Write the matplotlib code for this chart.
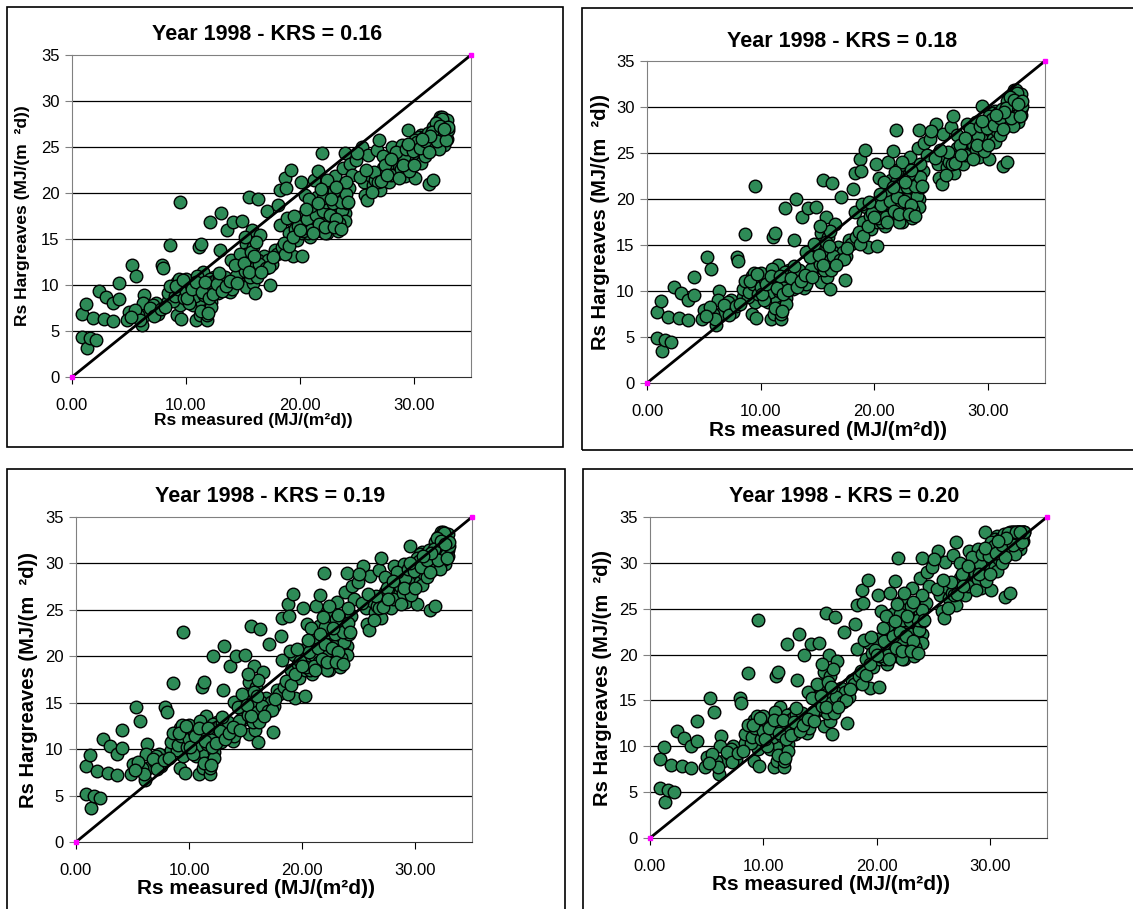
import matplotlib.pyplot as plt
from matplotlib.patches import Rectangle

plt.rcParams['font.family'] = ['Liberation Sans', 'DejaVu Sans']

# Daily Rs measured (x) and Hargreaves Rs computed with KRS = 0.16 (y), 1998.
# The Hargreaves estimate is linear in KRS and limited by clear-sky Rso,
# so the other panels are these values rescaled and capped.
rs_measured = [
    0.88, 1.2, 0.88, 1.3, 1.6, 2.1, 1.85, 2.4, 3.0, 2.8, 3.6, 3.6, 4.1, 4.1, 5.3, 5.65,
    5.0, 4.85, 6.1, 6.3, 6.2, 6.4, 7.55, 7.35, 7.9, 8.0, 8.6, 9.5, 9.2, 8.9, 8.4, 9.2,
    9.6, 9.5, 9.75, 10.2, 10.6, 10.9, 11.2, 11.1, 11.3, 11.2, 11.5, 11.8, 11.95, 12.1,
    12.5, 12.7, 12.95, 13.1, 13.1, 13.6, 13.7, 13.95, 14.15, 14.9, 14.9, 15.0, 15.3,
    15.5, 15.3, 15.75, 15.85, 16.05, 16.3, 16.5, 16.8, 17.1, 17.4, 17.5, 17.8, 18.1,
    18.25, 18.25, 18.7, 18.8, 19.0, 19.2, 19.3, 19.4, 19.6, 20.1, 20.0, 20.2, 20.4,
    20.9, 21.2, 21.3, 21.6, 21.9, 21.5, 21.9, 22.2, 22.4, 22.5, 22.65, 22.9, 23.1,
    23.3, 23.4, 23.8, 23.8, 23.95, 23.95, 24.3, 24.4, 24.9, 25.4, 25.6, 25.7, 25.9,
    26.0, 26.2, 26.4, 26.75, 26.95, 27.0, 27.3, 27.45, 27.8, 27.9, 28.1, 28.35, 28.5,
    28.8, 28.95, 29.2, 29.4, 29.5, 29.7, 30.0, 30.1, 30.25, 30.6, 30.8, 31.3, 31.6,
    31.7, 31.7, 31.85, 32.25, 32.3, 32.45, 32.6, 32.75, 32.85, 32.6,
    9.9, 10.3, 10.7, 11.2, 11.65, 12.1, 12.4, 12.8, 13.3, 13.6, 13.85, 8.9, 8.4, 10.2,
    11.4, 11.8, 11.8, 12.2, 11.5, 9.5, 10.5, 7.0, 7.1, 5.8,
    15.45, 15.6, 15.9, 16.2, 16.35, 16.9, 17.2, 15.3, 15.9, 14.7, 14.6, 14.15, 17.95,
    18.4, 18.7,
    19.7, 20.2, 20.6, 21.0, 21.5, 21.8, 22.1, 22.5, 22.8, 22.9, 23.2, 23.5, 23.7,
    23.95, 24.1, 21.3, 21.8, 20.7, 23.4, 22.65, 22.2,
    28.2, 28.6, 29.1, 29.8, 30.4, 30.8, 31.1, 31.4, 32.0, 32.2, 32.45, 32.9, 32.45,
    32.0, 32.6, 32.9, 27.6, 27.3, 27.0, 26.6, 30.4, 30.1, 30.9,
    9.0, 9.3, 9.8, 10.0, 10.4, 10.8, 11.0, 11.3, 11.6, 12.0, 12.3, 12.6, 12.9, 13.0,
    13.4, 13.8, 14.0, 12.2, 11.9, 10.3, 9.4, 10.0, 11.0,
    14.4, 14.8, 15.2, 15.6, 16.0, 16.4, 17.0, 17.3, 15.7, 16.1,
    18.6, 19.0, 19.4, 19.8, 20.3, 20.6, 21.0, 21.4, 21.7, 22.0, 22.3, 22.6, 22.9,
    23.2, 23.6, 24.0, 21.0, 20.8, 22.0, 23.0,
    27.5, 28.0, 28.4, 28.9, 29.3, 29.6, 29.9, 30.3, 30.6, 31.0, 31.2, 31.5, 31.8,
    32.1, 32.4, 32.7, 32.9, 32.5, 33.0, 31.9, 32.2,
    24.6, 25.0, 25.3, 26.5, 26.8, 25.8,
    5.5, 6.0, 6.8, 7.2, 7.8, 8.2, 8.6, 5.2,
    9.1, 9.7, 10.1, 10.5, 10.9, 11.4, 11.7, 12.0, 12.4, 12.7, 13.2, 13.5, 13.9, 12.9,
    14.3, 15.1, 15.5, 16.0, 16.6, 17.6, 15.2, 14.5,
    18.9, 19.5, 20.0, 20.5, 21.1, 21.6, 22.2, 22.7, 23.0, 23.6, 24.0, 22.4, 21.8,
    23.2, 24.2,
    26.3, 27.1, 27.6, 28.0, 28.7, 29.0, 29.5, 30.0, 30.5, 31.0, 31.3, 31.6, 32.0,
    32.3, 32.8, 33.0, 32.6, 31.4, 30.7,
]
rs_hargreaves_016 = [
    6.9, 7.9, 4.35, 3.1, 4.2, 4.0, 6.4, 9.3, 8.7, 6.3, 6.1, 8.0, 10.2, 8.5, 12.2, 11.0,
    7.1, 6.2, 5.6, 8.9, 8.0, 6.7, 6.9, 8.0, 12.2, 11.8, 14.4, 19.0, 10.3, 9.4, 8.3, 6.7,
    6.3, 7.8, 9.1, 9.8, 7.8, 6.2, 6.7, 14.1, 14.5, 10.5, 11.4, 6.2, 8.5, 16.9,
    10.9, 9.4, 13.8, 17.8, 10.2, 16.0, 9.4, 12.7, 16.9, 17.0, 11.2, 13.2, 9.8,
    19.6, 14.5, 16.0, 10.2, 9.1, 19.3, 15.4, 13.1, 18.0, 10.0, 12.3, 13.8, 18.7,
    20.3, 16.5, 21.6, 20.5, 15.6, 22.5, 17.0, 13.1, 16.1, 21.2, 17.4, 13.2, 19.8,
    15.2, 21.4, 16.3, 22.4, 24.4, 19.6, 17.4, 20.7, 15.6, 19.9, 18.5, 17.0, 21.8,
    15.9, 18.3, 19.6, 22.7, 24.4, 17.8, 20.5, 23.2, 23.6, 25.0, 21.2, 19.8, 19.2,
    24.1, 21.9, 20.9, 24.7, 25.8, 20.3, 22.7, 21.8, 21.2, 23.4, 25.0, 22.3, 23.9,
    24.7, 25.2, 21.8, 23.6, 26.8, 23.9, 25.2, 21.6, 24.3, 26.3, 25.0, 21.0, 24.8,
    21.4, 27.2, 26.0, 28.3, 26.0, 27.7, 26.8, 27.4, 26.5, 25.2,
    10.2, 9.1, 9.4, 9.1, 9.8, 10.7, 10.0, 9.1, 9.8, 10.5, 9.2, 8.3, 9.1, 8.3,
    8.0, 7.3, 6.7, 8.2, 9.4, 9.4, 10.3, 7.3, 7.8, 6.7,
    12.0, 10.9, 12.0, 10.9, 12.7, 12.0, 12.7, 13.4, 14.1, 13.4, 11.2, 10.5, 13.4,
    14.1, 13.4,
    14.9, 15.6, 16.3, 17.0, 16.3, 18.5, 17.0, 17.8, 19.2, 17.8, 18.9, 17.4, 18.1,
    17.0, 18.9, 17.8, 15.9, 15.6, 16.7, 16.3, 15.6,
    22.9, 23.2, 23.9, 22.9, 23.6, 24.3, 25.4, 26.1, 26.5, 25.4, 26.7, 27.2, 28.3,
    27.7, 26.1, 25.9, 22.9, 24.0, 21.8, 21.4, 26.1, 25.8, 26.1,
    8.8, 9.6, 8.6, 9.3, 10.0, 8.8, 9.9, 7.2, 8.9, 9.5, 10.3, 10.5, 10.8, 9.6,
    10.9, 10.1, 9.6, 7.6, 7.0, 8.0, 10.6, 10.6, 11.0,
    11.0, 12.2, 11.5, 12.6, 11.8, 12.3, 11.9, 12.0, 13.6, 14.7,
    14.6, 14.2, 15.2, 16.4, 15.9, 17.2, 16.0, 17.6, 16.6, 18.0, 19.0, 17.6, 18.9,
    17.2, 19.0, 19.9, 18.6, 19.4, 19.5, 20.2,
    23.0, 22.0, 24.5, 22.6, 24.8, 22.4, 24.6, 25.5, 23.3, 24.0, 26.5, 25.8, 25.0,
    27.0, 25.6, 26.0, 27.9, 28.0, 26.8, 27.6, 24.8,
    22.0, 24.3, 21.7, 22.3, 21.2, 22.5,
    7.3, 6.2, 7.5, 6.6, 7.4, 7.6, 9.9, 6.5,
    9.9, 10.5, 8.6, 9.6, 10.3, 9.2, 10.3, 8.6, 9.0, 10.1, 9.3, 9.9, 10.4, 11.3,
    12.2, 12.4, 11.4, 13.2, 11.4, 13.0, 15.2, 10.2,
    17.3, 17.5, 16.0, 18.3, 15.6, 18.9, 16.3, 19.4, 16.3, 16.1, 21.2, 21.4, 20.4,
    20.6, 19.0,
    20.1, 21.3, 22.0, 23.7, 21.6, 23.0, 25.3, 23.0, 24.9, 25.6, 24.5, 26.6, 25.6,
    27.3, 25.8, 27.2, 27.0, 26.2, 25.9,
]
krs_values = [0.16, 0.18, 0.19, 0.20]
rso_cap = 33.4
x_ticks = [0, 10, 20, 30]
y_ticks = [0, 5, 10, 15, 20, 25, 30, 35]

W, H = 1133, 909
# plot areas in pixels: left, top, right, bottom
areas = [(72, 55, 471, 377), (647, 61, 1045, 383),
         (76, 517, 472, 842), (650, 517, 1047, 838)]
# outer chart boxes in pixels
boxes = [(7, 7, 563, 447), (582, 8, 1140, 450),
         (7, 469, 565, 915), (583, 469, 1140, 915)]
label_sizes = [(12.5, 12.5), (15, 14.5), (15, 14.5), (15, 14.5)]

fig = plt.figure(figsize=(W / 100, H / 100), dpi=100)

for (bl, bt, br, bb) in boxes:
    fig.patches.append(Rectangle((bl / W, 1 - bb / H), (br - bl) / W, (bb - bt) / H,
                                 transform=fig.transFigure, fill=False,
                                 ec='black', lw=1.2))

for i, krs in enumerate(krs_values):
    l, t, r, b = areas[i]
    ax = fig.add_axes([l / W, 1 - b / H, (r - l) / W, (b - t) / H])
    pw, ph = r - l, b - t
    y = [min(v / 0.16 * krs, rso_cap) for v in rs_hargreaves_016]

    ax.set_xlim(0, 35)
    ax.set_ylim(0, 35)
    ax.set_yticks(y_ticks)
    ax.set_xticks(x_ticks)
    ax.set_xticklabels(['%.2f' % v for v in x_ticks])
    for g in y_ticks[1:-1]:
        ax.axhline(g, color='black', lw=0.9, zorder=1)

    ax.scatter(rs_measured, y, s=82, c='#2E8B57', edgecolors='black',
               linewidths=1.0, zorder=3)
    ax.plot([0, 35], [0, 35], color='black', lw=2.0, zorder=4,
            marker='s', ms=2.5, mfc='magenta', mec='magenta', clip_on=False)

    for side in ['left', 'top', 'right']:
        ax.spines[side].set_color('#808080')
    ax.spines['bottom'].set_color('#303030')
    ax.tick_params(axis='y', direction='out', length=5, pad=4, labelsize=12,
                   color='#808080')
    ax.tick_params(axis='x', direction='out', length=5, pad=10, labelsize=12)

    xs, ys = label_sizes[i]
    ax.text(0.49, 1 + 20 / ph, 'Year 1998 - KRS = %.2f' % krs, transform=ax.transAxes,
            ha='center', va='center', fontsize=15.5, fontweight='bold')
    ax.text(0.455, -(43 if i == 0 else 47) / ph, 'Rs measured (MJ/(m²d))',
            transform=ax.transAxes, ha='center', va='center',
            fontsize=xs, fontweight='bold')
    ax.text(-(49 if i == 0 else 47) / pw, 0.5, 'Rs Hargreaves (MJ/(m  ²d))',
            transform=ax.transAxes, ha='center', va='center', rotation=90,
            fontsize=ys, fontweight='bold')

fig.savefig('out.png', dpi=100)
